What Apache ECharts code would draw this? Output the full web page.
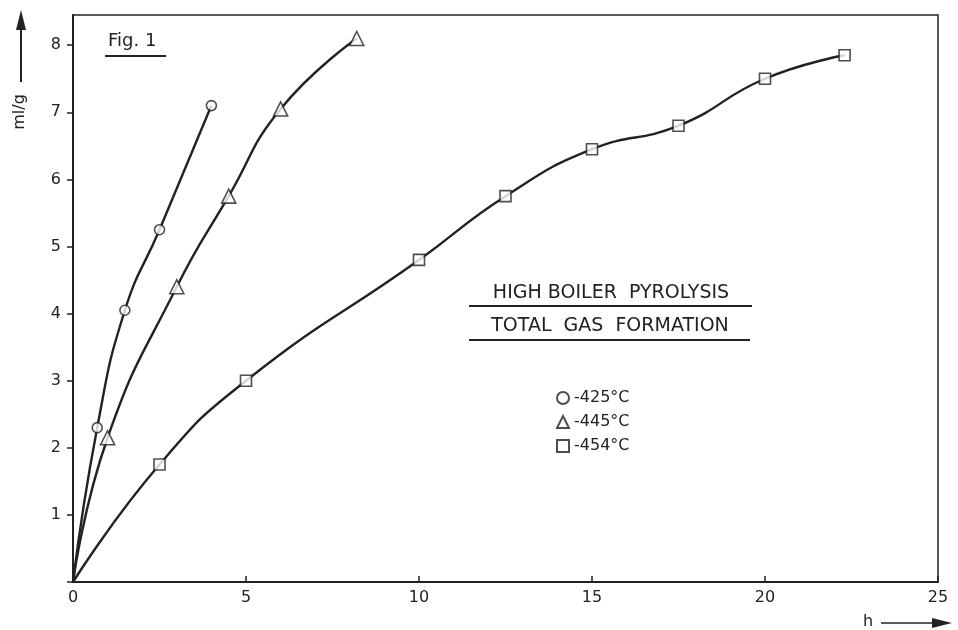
<!DOCTYPE html>
<html>
<head>
<meta charset="utf-8">
<script src="https://cdn.jsdelivr.net/npm/echarts@6/dist/echarts.min.js"></script>
<style>
html, body { margin: 0; padding: 0; background: #fff; }
#gasChart { width: 958px; height: 630px; }
</style>
</head>
<body>
<div id="gasChart"></div>
<script>
// 高沸物热解 - 总产气量 (Fig. 1)
const hours425 = [0, 0.7, 1.5, 2.5, 4.0];
const gas425 = [0, 2.3, 4.05, 5.25, 7.1];
const hours445 = [0, 1.0, 3.0, 4.5, 6.0, 8.2];
const gas445 = [0, 2.15, 4.4, 5.75, 7.05, 8.1];
const hours454 = [0, 2.5, 5.0, 10.0, 12.5, 15.0, 17.5, 20.0, 22.3];
const gas454 = [0, 1.75, 3.0, 4.8, 5.75, 6.45, 6.8, 7.5, 7.85];
const seriesNames = ['-425°C', '-445°C', '-454°C'];
const seriesSymbols = ['circle', 'triangle', 'rect'];
const seriesSymbolSizes = [10, 14, 11];
const xTicks = [0, 5, 10, 15, 20, 25];
const yTicks = [1, 2, 3, 4, 5, 6, 7, 8];

const ink = '#222';
const font = 'DejaVu Sans';

function pairs(xs, ys) {
    return xs.map((x, i) => [x, ys[i]]);
}

let chart = echarts.init(document.getElementById('gasChart'), null, { renderer: 'canvas' });
let groups = [[hours425, gas425], [hours445, gas445], [hours454, gas454]];

let series = [];
groups.forEach((g, i) => {
    // 曲线 (经过原点)
    series.push({
        name: 'curve' + i,
        type: 'line',
        data: pairs(g[0], g[1]),
        smooth: 0.5,
        showSymbol: false,
        silent: true,
        lineStyle: { color: ink, width: 2.4 },
        z: 2
    });
    // 测量点
    series.push({
        name: seriesNames[i],
        type: 'scatter',
        data: pairs(g[0], g[1]).slice(1),
        symbol: seriesSymbols[i],
        symbolSize: seriesSymbolSizes[i],
        itemStyle: { color: '#fff', borderColor: ink, borderWidth: 1.6 },
        z: 3
    });
});

let option = {
    backgroundColor: '#fff',
    animation: false,
    grid: {
        left: 73, right: 20, top: 15, bottom: 48,
        show: true,
        borderColor: ink,
        borderWidth: 1.5,
        backgroundColor: 'transparent'
    },
    xAxis: {
        type: 'value',
        min: xTicks[0],
        max: xTicks[xTicks.length - 1],
        interval: 5,
        axisLine: { lineStyle: { color: ink, width: 2 } },
        axisTick: { show: true, inside: true, length: 6, lineStyle: { color: ink, width: 1.5 } },
        axisLabel: { color: ink, fontFamily: font, fontSize: 16, margin: 8 },
        splitLine: { show: false }
    },
    yAxis: {
        type: 'value',
        min: 0,
        max: 8.45,
        interval: 1,
        axisLine: { show: true, lineStyle: { color: ink, width: 2 } },
        axisTick: { show: true, inside: false, length: 6, lineStyle: { color: ink, width: 1.5 } },
        axisLabel: {
            color: ink, fontFamily: font, fontSize: 16, margin: 12,
            showMaxLabel: false,
            formatter: v => (yTicks.indexOf(v) >= 0 ? String(v) : '')
        },
        splitLine: { show: false }
    },
    legend: {
        data: seriesNames,
        orient: 'vertical',
        left: 551,
        top: 385,
        itemGap: 8,
        itemWidth: 12,
        itemHeight: 12,
        textStyle: { color: ink, fontFamily: font, fontSize: 16 }
    },
    graphic: [
        // y 轴箭头
        { type: 'line', shape: { x1: 21, y1: 82, x2: 21, y2: 26 }, style: { stroke: ink, lineWidth: 2 } },
        { type: 'polygon', shape: { points: [[21, 10], [16, 30], [26, 30]] }, style: { fill: ink } },
        { type: 'text', x: 20, y: 112, rotation: Math.PI / 2,
          style: { text: 'ml/g', fill: ink, font: '16px ' + font, align: 'center', verticalAlign: 'middle' } },
        // x 轴箭头
        { type: 'text', x: 868, y: 622,
          style: { text: 'h', fill: ink, font: '16px ' + font, align: 'center', verticalAlign: 'middle' } },
        { type: 'line', shape: { x1: 881, y1: 623, x2: 935, y2: 623 }, style: { stroke: ink, lineWidth: 1.5 } },
        { type: 'polygon', shape: { points: [[952, 623], [932, 618], [932, 628]] }, style: { fill: ink } },
        // 图号
        { type: 'text', x: 108, y: 41,
          style: { text: 'Fig. 1', fill: ink, font: '18px ' + font, verticalAlign: 'middle' } },
        { type: 'line', shape: { x1: 105, y1: 56, x2: 166, y2: 56 }, style: { stroke: ink, lineWidth: 2 } },
        // 标题
        { type: 'text', x: 611, y: 293,
          style: { text: 'HIGH BOILER  PYROLYSIS', fill: ink, font: '19px ' + font, align: 'center', verticalAlign: 'middle' } },
        { type: 'line', shape: { x1: 469, y1: 306, x2: 752, y2: 306 }, style: { stroke: ink, lineWidth: 2 } },
        { type: 'text', x: 610, y: 326,
          style: { text: 'TOTAL  GAS  FORMATION', fill: ink, font: '19px ' + font, align: 'center', verticalAlign: 'middle' } },
        { type: 'line', shape: { x1: 469, y1: 340, x2: 750, y2: 340 }, style: { stroke: ink, lineWidth: 2 } }
    ],
    series: series
};

chart.setOption(option);
window.addEventListener('resize', () => {
    chart.resize();
}, false);
</script>
</body>
</html>
